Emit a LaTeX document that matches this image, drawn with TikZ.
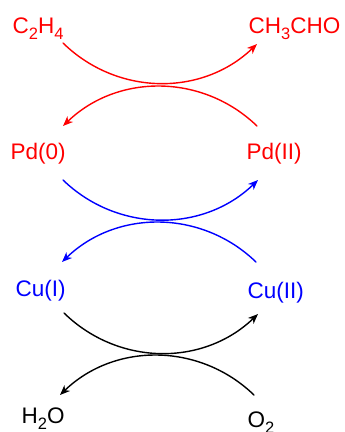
\documentclass[tikz,border=0pt]{standalone}
\usepackage{fontspec}
\setmainfont{Liberation Sans}
\usetikzlibrary{arrows.meta}
\definecolor{pdred}{HTML}{FF0000}
\definecolor{cublue}{HTML}{0000FF}
\newcommand\chemsub[1]{\raisebox{-6pt}{\fontsize{16.5}{18}\selectfont #1}}

\begin{document}
\begin{tikzpicture}[
    x=1pt, y=-1pt,
    line width=1.4pt,
    line cap=round,
    chem/.style={anchor=base west, inner sep=0pt, font=\fontsize{22.5}{27}\selectfont},
    turn/.style={-{Stealth[length=10pt, width=8pt, inset=3pt]}}
]
    \useasboundingbox (0,0) rectangle (345,432);

    % Species, left and right column
    \node[chem, pdred] (ethene) at (12,33) {C\chemsub{2}H\chemsub{4}};
    \node[chem, pdred] (acetal) at (248,33) {CH\chemsub{3}CHO};
    \node[chem, pdred] (pdzero) at (10,159) {Pd(0)};
    \node[chem, pdred] (pdtwo) at (246,159) {Pd(II)};
    \node[chem, cublue] (cuone) at (15,296) {Cu(I)};
    \node[chem, cublue] (cutwo) at (247,298) {Cu(II)};
    \node[chem] (water) at (21,423) {H\chemsub{2}O};
    \node[chem] (oxygen) at (247,427) {O\chemsub{2}};

    % Arrow ends
    \coordinate (ethene-out) at (63,43);
    \coordinate (acetal-in) at (257,44);
    \coordinate (pdtwo-out) at (257,126);
    \coordinate (pdzero-in) at (63,126);
    \coordinate (pdzero-out) at (63,180);
    \coordinate (pdtwo-in) at (258,180);
    \coordinate (cutwo-out) at (256,262);
    \coordinate (cuone-in) at (62,262);
    \coordinate (cuone-out) at (64,313);
    \coordinate (cutwo-in) at (258,314);
    \coordinate (oxygen-out) at (254,395);
    \coordinate (water-in) at (60,395);

    % Pd cycle
    \draw[turn, pdred] (ethene-out) to[bend right=44] (acetal-in);
    \draw[turn, pdred] (pdtwo-out) to[bend right=44] (pdzero-in);

    % Pd/Cu coupling
    \draw[turn, cublue] (pdzero-out) to[bend right=44] (pdtwo-in);
    \draw[turn, cublue] (cutwo-out) to[bend right=44] (cuone-in);

    % Cu reoxidation
    \draw[turn] (cuone-out) to[bend right=44] (cutwo-in);
    \draw[turn] (oxygen-out) to[bend right=44] (water-in);

\end{tikzpicture}
\end{document}
